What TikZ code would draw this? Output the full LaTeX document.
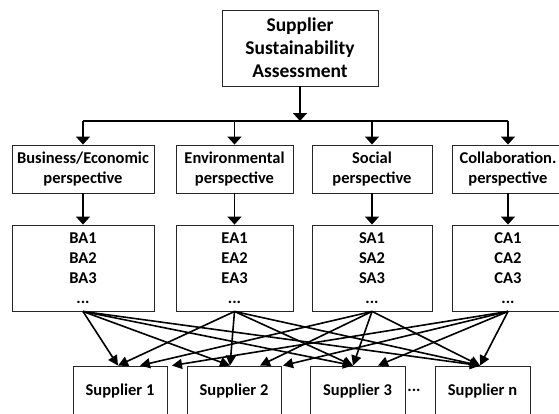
\documentclass[tikz,border=0pt]{standalone}
\usepackage{fontspec}
\setmainfont{Carlito}
\usetikzlibrary{arrows.meta}
\begin{document}
\begin{tikzpicture}[x=1pt,y=-1pt,
  boxstyle/.style={draw=black!85,line width=0.9pt,rectangle,inner sep=0pt,align=center,font=\fontsize{16.5}{20}\selectfont\bfseries},
  toparrow/.style={line width=1.8pt,-{Triangle[length=8pt,width=14pt]}},
  crossarrow/.style={line width=1.6pt,-{Triangle[length=10pt,width=10pt]}},
  plain/.style={line width=1.8pt}]
\useasboundingbox (0,0) rectangle (559,413);
% top
\node[boxstyle,minimum width=156pt,minimum height=76pt,font=\fontsize{19.5}{23}\selectfont\bfseries] (top) at (300,48) {Supplier\\Sustainability\\Assessment};
\coordinate (bus) at (300,121);
% perspectives
\node[boxstyle,minimum width=142pt,minimum height=48pt] (pb) at (83,169) {Business/Economic\\perspective};
\node[boxstyle,minimum width=117pt,minimum height=48pt] (pe) at (234.5,169) {Environmental\\perspective};
\node[boxstyle,minimum width=120pt,minimum height=48pt] (ps) at (372,169) {Social\\perspective};
\node[boxstyle,minimum width=112pt,minimum height=48pt] (pc) at (508,169) {Collaboration.\\perspective};
% attributes
\node[boxstyle,minimum width=142pt,minimum height=86pt] (ab) at (83,268) {BA1\\BA2\\BA3\\...};
\node[boxstyle,minimum width=117pt,minimum height=86pt] (ae) at (234.5,268) {EA1\\EA2\\EA3\\...};
\node[boxstyle,minimum width=120pt,minimum height=86pt] (as) at (372,268) {SA1\\SA2\\SA3\\...};
\node[boxstyle,minimum width=112pt,minimum height=86pt] (ac) at (508,268) {CA1\\CA2\\CA3\\...};
% suppliers
\node[boxstyle,minimum width=94pt,minimum height=50pt] (s1) at (120,391) {Supplier 1};
\node[boxstyle,minimum width=94pt,minimum height=50pt] (s2) at (234,391) {Supplier 2};
\node[boxstyle,minimum width=95pt,minimum height=50pt] (s3) at (357.5,391) {Supplier 3};
\node[boxstyle,minimum width=95pt,minimum height=50pt] (sn) at (482.5,391) {Supplier n};
\node[font=\fontsize{16.5}{20}\selectfont\bfseries,inner sep=0pt] (dots) at (414,390) {...};
% tree connectors
\draw[toparrow] (top.south) -- (bus);
\draw[plain] (pb.north |- bus) -- (pc.north |- bus);
\draw[toparrow] (pb.north |- bus) -- (pb.north);
\draw[toparrow] (pe.north |- bus) -- (pe.north);
\draw[toparrow] (ps.north |- bus) -- (ps.north);
\draw[toparrow] (pc.north |- bus) -- (pc.north);
\draw[toparrow] (pb) -- (ab);
\draw[toparrow] (pe) -- (ae);
\draw[toparrow] (ps) -- (as);
\draw[toparrow] (pc) -- (ac);
% cross connectors
\draw[crossarrow] (ab.south) -- ([xshift=-2pt]s1.north);
\draw[crossarrow] (ab.south) -- ([xshift=-4pt]s2.north);
\draw[crossarrow] (ab.south) -- ([xshift=-4.5pt]s3.north);
\draw[crossarrow] (ab.south) -- ([xshift=-2.5pt]sn.north);
\draw[crossarrow] (ae.south) -- ([xshift=-2pt]s1.north);
\draw[crossarrow] (ae.south) -- ([xshift=-4pt]s2.north);
\draw[crossarrow] (ae.south) -- ([xshift=-4.5pt]s3.north);
\draw[crossarrow] (ae.south) -- ([xshift=-2.5pt]sn.north);
\draw[crossarrow] (as.south) -- ([xshift=20pt]s1.north);
\draw[crossarrow] (as.south) -- ([xshift=26pt]s2.north);
\draw[crossarrow] (as.south) -- ([xshift=-4.5pt]s3.north);
\draw[crossarrow] (as.south) -- ([xshift=-2.5pt]sn.north);
\draw[crossarrow] (ac.south) -- ([xshift=52pt]s1.north);
\draw[crossarrow] (ac.south) -- ([xshift=49pt]s2.north);
\draw[crossarrow] (ac.south) -- ([xshift=20.5pt]s3.north);
\draw[crossarrow] (ac.south) -- ([xshift=-2.5pt]sn.north);
\end{tikzpicture}
\end{document}
